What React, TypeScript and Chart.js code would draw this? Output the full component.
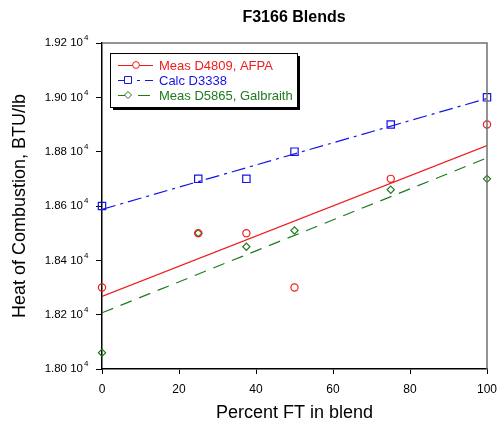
import React, { useEffect, useRef } from "react";
import { Chart, registerables } from "chart.js";

Chart.register(...registerables);

// Percent FT in the blend
const pctFT = [0, 25, 37.5, 50, 75, 100];
// Heat of combustion, BTU/lb
const measD4809 = [18300, 18500, 18500, 18300, 18700, 18900];
const calcD3338 = [18600, 18700, 18700, 18800, 18900, 19000];
const measD5865 = [18060, 18500, 18450, 18510, 18660, 18700];

const seriesNames = ["Meas D4809, AFPA", "Calc D3338", "Meas D5865, Galbraith"];
const yTicks = [18000, 18200, 18400, 18600, 18800, 19000, 19200];
const xTicks = [0, 20, 40, 60, 80, 100];

const RED = "#f01c1c";
const BLUE = "#1414e6";
const GREEN = "#1e7a1e";
const FONT = "'Liberation Sans', Arial, Helvetica, sans-serif";

const colors = [RED, BLUE, GREEN];
const pointStyles = ["circle", "rect", "rectRot"];
const pointRadii = [3.6, 5.2, 3.6];
const dashes: number[][] = [[], [14, 5, 3, 5], [12, 8]];

// least-squares straight line through a series, evaluated at both ends of the x range
function trend(xs: number[], ys: number[]) {
  const n = xs.length;
  const mx = xs.reduce((a, b) => a + b, 0) / n;
  const my = ys.reduce((a, b) => a + b, 0) / n;
  let sxy = 0;
  let sxx = 0;
  for (let i = 0; i < n; i++) {
    sxy += (xs[i] - mx) * (ys[i] - my);
    sxx += (xs[i] - mx) * (xs[i] - mx);
  }
  const slope = sxy / sxx;
  const b = my - slope * mx;
  const x0 = xTicks[0];
  const x1 = xTicks[xTicks.length - 1];
  return [
    { x: x0, y: b + slope * x0 },
    { x: x1, y: b + slope * x1 },
  ];
}

const overlay = {
  id: "overlay",
  afterDraw(chart: any) {
    const ctx = chart.ctx;
    const area = chart.chartArea;
    const ys = chart.scales.y;
    ctx.save();

    // gray frame on top and right
    ctx.strokeStyle = "#707070";
    ctx.lineWidth = 1.5;
    ctx.beginPath();
    ctx.moveTo(area.left, area.top);
    ctx.lineTo(area.right, area.top);
    ctx.lineTo(area.right, area.bottom);
    ctx.stroke();

    // exponent on the y tick labels
    ctx.fillStyle = "#000";
    ctx.font = `8px ${FONT}`;
    ctx.textAlign = "left";
    ctx.textBaseline = "middle";
    for (const v of yTicks) {
      const py = ys.getPixelForValue(v);
      ctx.fillText("4", 84, py - 5);
    }

    // title
    ctx.font = `bold 16px ${FONT}`;
    ctx.textAlign = "center";
    ctx.textBaseline = "middle";
    ctx.fillText("F3166 Blends", 294, 18);

    // axis titles
    ctx.font = `18px ${FONT}`;
    ctx.fillText("Percent FT in blend", (area.left + area.right) / 2, 413);
    ctx.save();
    ctx.translate(20, (area.top + area.bottom) / 2);
    ctx.rotate(-Math.PI / 2);
    ctx.fillText("Heat of Combustion, BTU/lb", 0, 0);
    ctx.restore();

    // legend box with drop shadow
    const bx = 110, by = 53, bw = 187, bh = 54;
    ctx.fillStyle = "#000";
    ctx.fillRect(bx + 3, by + 3, bw, bh);
    ctx.fillStyle = "#fff";
    ctx.fillRect(bx, by, bw, bh);
    ctx.strokeStyle = "#000";
    ctx.lineWidth = 1;
    ctx.strokeRect(bx + 0.5, by + 0.5, bw, bh);

    const rows = [65, 80, 95];
    ctx.font = `13px ${FONT}`;
    ctx.textAlign = "left";
    for (let i = 0; i < 3; i++) {
      const ry = rows[i];
      ctx.strokeStyle = colors[i];
      ctx.lineWidth = 1;
      ctx.setLineDash(dashes[i]);
      ctx.beginPath();
      ctx.moveTo(118, ry + 0.5);
      ctx.lineTo(153, ry + 0.5);
      ctx.stroke();
      ctx.setLineDash([]);
      // marker
      const mx = i === 0 ? 136 : 128;
      ctx.fillStyle = "#fff";
      ctx.beginPath();
      if (i === 0) {
        ctx.arc(mx, ry, 3.4, 0, Math.PI * 2);
      } else if (i === 1) {
        ctx.rect(mx - 3.5, ry - 3.5, 7, 7);
      } else {
        ctx.moveTo(mx, ry - 3.5);
        ctx.lineTo(mx + 3.5, ry);
        ctx.lineTo(mx, ry + 3.5);
        ctx.lineTo(mx - 3.5, ry);
        ctx.closePath();
      }
      ctx.fill();
      ctx.stroke();
      ctx.fillStyle = colors[i];
      ctx.fillText(seriesNames[i], 159, ry + 1);
    }
    ctx.restore();
  },
};

export default function App() {
  const ref = useRef<HTMLCanvasElement | null>(null);

  useEffect(() => {
    if (!ref.current) return;
    const series = [measD4809, calcD3338, measD5865];
    const lineSets = series.map((ys, i) => ({
      type: "line" as const,
      label: seriesNames[i] + " fit",
      data: trend(pctFT, ys),
      borderColor: colors[i],
      borderWidth: 1.2,
      borderDash: dashes[i],
      pointRadius: 0,
      fill: false,
      order: 2,
    }));
    const pointSets = series.map((ys, i) => ({
      type: "scatter" as const,
      label: seriesNames[i],
      data: ys.map((y, k) => ({ x: pctFT[k], y })),
      borderColor: colors[i],
      backgroundColor: "rgba(255,255,255,0)",
      borderWidth: 1.2,
      pointStyle: pointStyles[i],
      pointRadius: pointRadii[i],
      showLine: false,
      clip: false as any,
      order: 1,
    }));

    const chart = new Chart(ref.current, {
      type: "scatter",
      data: { datasets: [...lineSets, ...pointSets] as any },
      options: {
        animation: false,
        responsive: false,
        maintainAspectRatio: false,
        layout: { padding: { top: 43, right: 13, left: 0, bottom: 0 } },
        plugins: {
          legend: { display: false },
          title: { display: false },
          tooltip: { enabled: false },
        },
        scales: {
          x: {
            type: "linear",
            min: 0,
            max: 100,
            afterFit: (s: any) => {
              s.height = 56;
              s.paddingLeft = 0;
              s.paddingRight = 0;
            },
            afterBuildTicks: (s: any) => {
              s.ticks = xTicks.map((v) => ({ value: v }));
            },
            ticks: {
              color: "#000",
              font: { family: FONT, size: 12 },
              padding: 8,
              maxRotation: 0,
            },
            grid: {
              drawOnChartArea: false,
              drawTicks: true,
              tickLength: 5,
              color: "#000",
            },
            border: { display: true, color: "#000", width: 1.5 },
          },
          y: {
            type: "linear",
            min: 18000,
            max: 19200,
            afterFit: (s: any) => {
              s.width = 102;
              s.paddingTop = 0;
              s.paddingBottom = 0;
            },
            afterBuildTicks: (s: any) => {
              s.ticks = yTicks.map((v) => ({ value: v }));
            },
            ticks: {
              color: "#000",
              font: { family: FONT, size: 11.5 },
              padding: 13,
              callback: (v: any) => (Number(v) / 10000).toFixed(2) + " 10",
            },
            grid: {
              drawOnChartArea: false,
              drawTicks: true,
              tickLength: 6,
              color: "#000",
            },
            border: { display: true, color: "#000", width: 1.5 },
          },
        },
      },
      plugins: [overlay],
    });
    return () => chart.destroy();
  }, []);

  return (
    <div style={{ position: "fixed", left: 0, top: 0, width: 500, height: 425, background: "#fff" }}>
      <canvas ref={ref} width={500} height={425} style={{ display: "block", width: 500, height: 425 }} />
    </div>
  );
}
